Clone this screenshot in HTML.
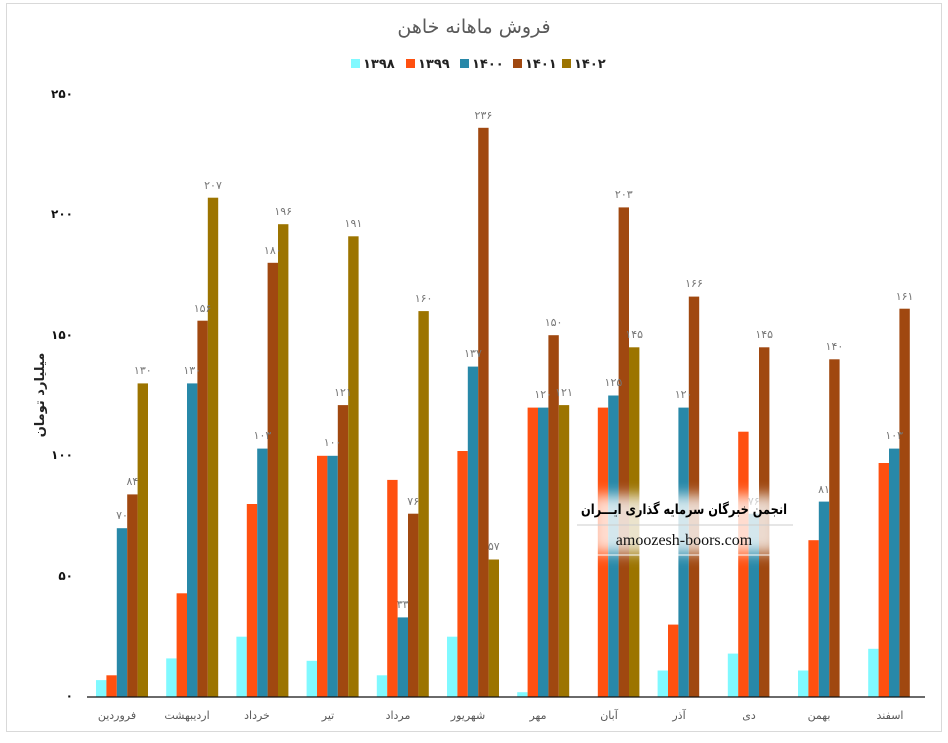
<!DOCTYPE html>
<html><head><meta charset="utf-8"><style>
body{margin:0;background:#fff;width:948px;height:738px;overflow:hidden;font-family:"Liberation Sans","DejaVu Sans",sans-serif}
</style></head><body>
<svg width="948" height="738" xmlns="http://www.w3.org/2000/svg" font-family="'DejaVu Sans','Liberation Sans',sans-serif">
<rect x="6.5" y="3.5" width="935" height="728" fill="#fff" stroke="#d9d9d9"/>
<text x="474" y="33" text-anchor="middle" font-size="19" fill="#595959">فروش ماهانه خاهن</text>
<g font-size="13" font-weight="bold" fill="#222">
<rect x="351" y="59" width="9" height="9" fill="#80F9FF"/><text x="363" y="68">۱۳۹۸</text>
<rect x="406" y="59" width="9" height="9" fill="#FF5010"/><text x="418" y="68">۱۳۹۹</text>
<rect x="460" y="59" width="9" height="9" fill="#2888A8"/><text x="472" y="68">۱۴۰۰</text>
<rect x="513" y="59" width="9" height="9" fill="#A04810"/><text x="525" y="68">۱۴۰۱</text>
<rect x="562" y="59" width="9" height="9" fill="#9C7400"/><text x="574" y="68">۱۴۰۲</text>
</g>
<g font-size="12" font-weight="bold" fill="#111" text-anchor="end">
<text x="73" y="98">۲۵۰</text><text x="73" y="218">۲۰۰</text><text x="73" y="339">۱۵۰</text><text x="73" y="459">۱۰۰</text><text x="73" y="580">۵۰</text><text x="73" y="700">۰</text>
</g>
<text transform="translate(44,395) rotate(-90)" text-anchor="middle" font-size="13" font-weight="bold" fill="#222">میلیارد تومان</text>
<g transform="translate(0,697) scale(1,-1)">
<g fill="#80F9FF">
<rect x="96" width="10.4" height="16.9"/><rect x="166.2" width="10.4" height="38.6"/><rect x="236.4" width="10.4" height="60.3"/><rect x="306.6" width="10.4" height="36.2"/><rect x="376.8" width="10.4" height="21.7"/><rect x="447" width="10.4" height="60.3"/><rect x="517.2" width="10.4" height="4.8"/><rect x="657.6" width="10.4" height="26.5"/><rect x="727.8" width="10.4" height="43.4"/><rect x="798" width="10.4" height="26.5"/><rect x="868.2" width="10.4" height="48.2"/>
</g>
<g fill="#FF5010">
<rect x="106.4" width="10.4" height="21.7"/><rect x="176.6" width="10.4" height="103.7"/><rect x="246.8" width="10.4" height="193"/><rect x="317" width="10.4" height="241.2"/><rect x="387.2" width="10.4" height="217.1"/><rect x="457.4" width="10.4" height="246"/><rect x="527.6" width="10.4" height="289.4"/><rect x="597.8" width="10.4" height="289.4"/><rect x="668" width="10.4" height="72.4"/><rect x="738.2" width="10.4" height="265.3"/><rect x="808.4" width="10.4" height="156.8"/><rect x="878.6" width="10.4" height="234"/>
</g>
<g fill="#2888A8">
<rect x="116.8" width="10.4" height="168.8"/><rect x="187" width="10.4" height="313.6"/><rect x="257.2" width="10.4" height="248.4"/><rect x="327.4" width="10.4" height="241.2"/><rect x="397.6" width="10.4" height="79.6"/><rect x="467.8" width="10.4" height="330.4"/><rect x="538" width="10.4" height="289.4"/><rect x="608.2" width="10.4" height="301.5"/><rect x="678.4" width="10.4" height="289.4"/><rect x="748.6" width="10.4" height="183.3"/><rect x="818.8" width="10.4" height="195.4"/><rect x="889" width="10.4" height="248.4"/>
</g>
<g fill="#A04810">
<rect x="127.2" width="10.4" height="202.6"/><rect x="197.4" width="10.4" height="376.3"/><rect x="267.6" width="10.4" height="434.2"/><rect x="337.8" width="10.4" height="291.9"/><rect x="408" width="10.4" height="183.3"/><rect x="478.2" width="10.4" height="569.2"/><rect x="548.4" width="10.4" height="361.8"/><rect x="618.6" width="10.4" height="489.6"/><rect x="688.8" width="10.4" height="400.4"/><rect x="759" width="10.4" height="349.7"/><rect x="829.2" width="10.4" height="337.7"/><rect x="899.4" width="10.4" height="388.3"/>
</g>
<g fill="#9C7400">
<rect x="137.6" width="10.4" height="313.6"/><rect x="207.8" width="10.4" height="499.3"/><rect x="278" width="10.4" height="472.8"/><rect x="348.2" width="10.4" height="460.7"/><rect x="418.4" width="10.4" height="385.9"/><rect x="488.6" width="10.4" height="137.5"/><rect x="558.8" width="10.4" height="291.9"/><rect x="629" width="10.4" height="349.7"/>
</g>
</g>
<line x1="87" y1="697" x2="925" y2="697" stroke="#111" stroke-width="1.2"/>
<g font-size="11" fill="#777" text-anchor="middle">
<text x="122" y="519">۷۰</text><text x="192.2" y="374">۱۳۰</text><text x="262.4" y="439">۱۰۳</text><text x="332.6" y="446">۱۰۰</text><text x="402.8" y="608">۳۳</text><text x="473" y="357">۱۳۷</text><text x="543.2" y="398">۱۲۰</text><text x="613.4" y="386">۱۲۵</text><text x="683.6" y="398">۱۲۰</text><text x="753.8" y="505">۷۶</text><text x="824" y="493">۸۱</text><text x="894.2" y="439">۱۰۳</text>
<text x="132.4" y="485">۸۴</text><text x="202.6" y="312">۱۵۶</text><text x="272.8" y="254">۱۸۰</text><text x="343" y="396">۱۲۱</text><text x="413.2" y="505">۷۶</text><text x="483.4" y="119">۲۳۶</text><text x="553.6" y="326">۱۵۰</text><text x="623.8" y="198">۲۰۳</text><text x="694" y="287">۱۶۶</text><text x="764.2" y="338">۱۴۵</text><text x="834.4" y="350">۱۴۰</text><text x="904.6" y="300">۱۶۱</text>
<text x="142.8" y="374">۱۳۰</text><text x="213" y="189">۲۰۷</text><text x="283.2" y="215">۱۹۶</text><text x="353.4" y="227">۱۹۱</text><text x="423.6" y="302">۱۶۰</text><text x="493.8" y="550">۵۷</text><text x="564" y="396">۱۲۱</text><text x="634.2" y="338">۱۴۵</text>
</g>
<g font-size="11" fill="#595959" text-anchor="middle">
<text x="117" y="719">فروردین</text><text x="187" y="719">اردیبهشت</text><text x="257" y="719">خرداد</text><text x="328" y="719">تیر</text><text x="398" y="719">مرداد</text><text x="468" y="719">شهریور</text><text x="538" y="719">مهر</text><text x="609" y="719">آبان</text><text x="679" y="719">آذر</text><text x="749" y="719">دی</text><text x="819" y="719">بهمن</text><text x="890" y="719">اسفند</text>
</g>
<defs><filter id="bl" x="-20%" y="-40%" width="140%" height="180%"><feGaussianBlur stdDeviation="7"/></filter></defs>
<rect x="590" y="495" width="190" height="58" fill="#fff" opacity="0.8" filter="url(#bl)"/>
<text x="684" y="514" text-anchor="middle" font-size="14" font-weight="bold" fill="#000" textLength="206" lengthAdjust="spacingAndGlyphs">انجمن خبرگان سرمایه گذاری ایـــران</text>
<line x1="577" y1="525" x2="793" y2="525" stroke="#ccc"/>
<text x="684" y="545" text-anchor="middle" font-size="16" font-family="'Liberation Serif',serif" fill="#111">amoozesh-boors.com</text>
<line x1="597" y1="555" x2="770" y2="555" stroke="#fff"/>
</svg>
</body></html>
